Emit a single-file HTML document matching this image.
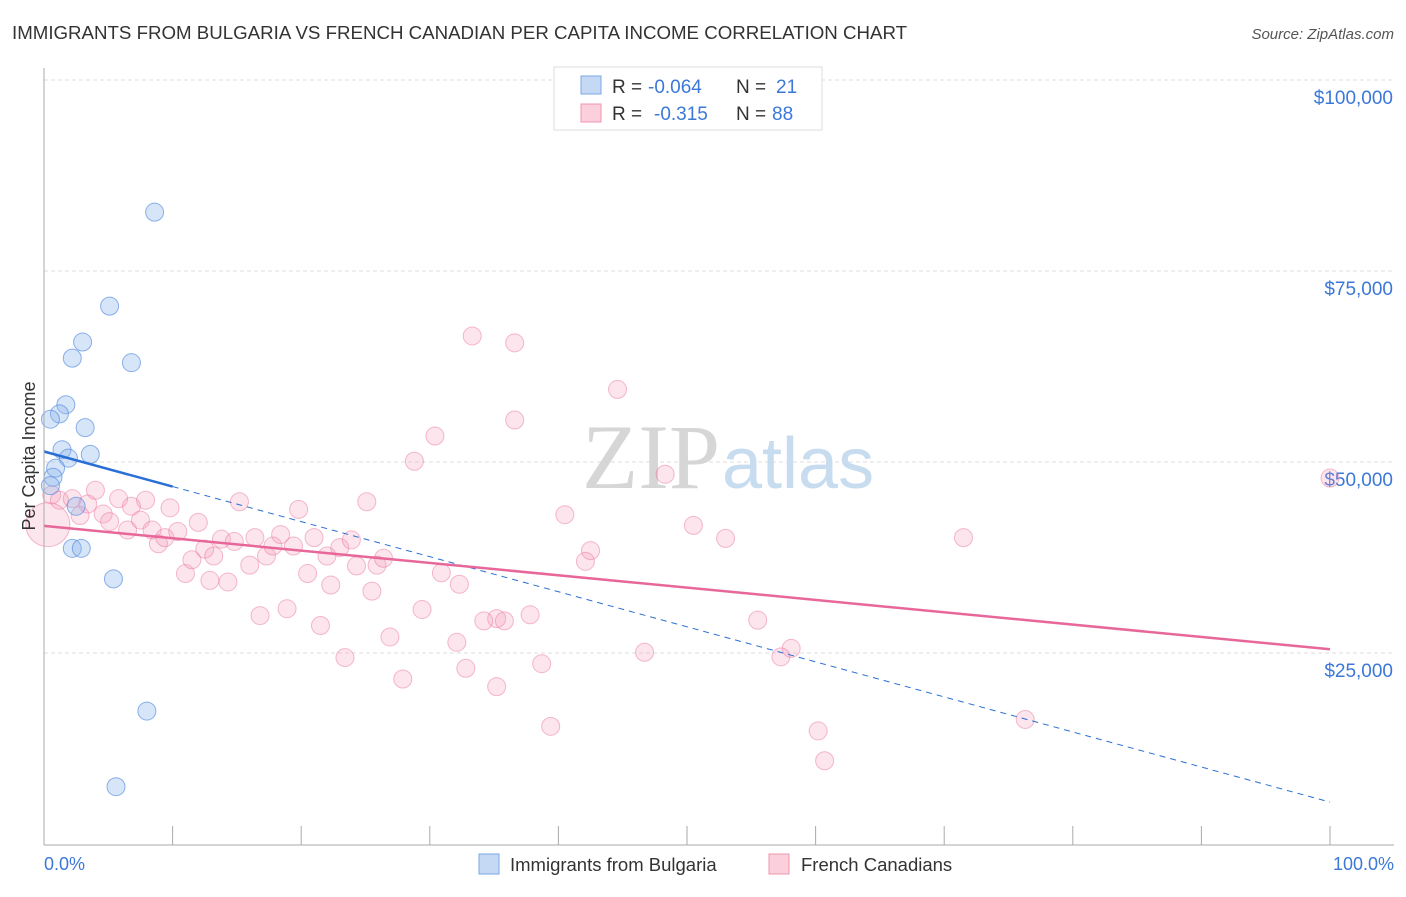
<!DOCTYPE html>
<html><head><meta charset="utf-8"><style>
body{margin:0;background:#fff;font-family:"Liberation Sans",sans-serif;}
</style></head><body>
<svg width="1406" height="892" xmlns="http://www.w3.org/2000/svg">
<text x="12" y="39" font-size="18.7" fill="#333">IMMIGRANTS FROM BULGARIA VS FRENCH CANADIAN PER CAPITA INCOME CORRELATION CHART</text>
<text x="1394" y="39" font-size="15" fill="#555" font-style="italic" text-anchor="end">Source: ZipAtlas.com</text>
<g id="grid"></g>
<text x="720" y="488" font-size="92" fill="#d6d6d6" text-anchor="end" font-family="Liberation Serif,serif">ZIP</text>
<text x="722" y="488" font-size="72" fill="#c8dcf0">atlas</text>
<g id="pts"></g>
<g id="lines"></g>
<line x1="44" y1="68" x2="44" y2="845" stroke="#aaa"/>
<line x1="44" y1="845" x2="1394" y2="845" stroke="#aaa"/>
<text transform="translate(35,456) rotate(-90)" font-size="18" fill="#333" text-anchor="middle">Per Capita Income</text>
<text x="44" y="870" font-size="18" fill="#3b78d8">0.0%</text>
<text x="1394" y="870" font-size="18" fill="#3b78d8" text-anchor="end">100.0%</text>
<g>
<rect x="554" y="67" width="268" height="63" fill="#fff" stroke="#ddd"/>
<rect x="581" y="76" width="20" height="18" fill="#c5d9f5" stroke="#7aa6e6"/>
<rect x="581" y="104" width="20" height="18" fill="#fbd0dc" stroke="#f096b1"/>
<text x="612" y="93" font-size="19" fill="#333">R =</text>
<text x="648" y="93" font-size="19" fill="#3b78d8">-0.064</text>
<text x="736" y="93" font-size="19" fill="#333">N =</text>
<text x="776" y="93" font-size="19" fill="#3b78d8">21</text>
<text x="612" y="120" font-size="19" fill="#333">R =</text>
<text x="654" y="120" font-size="19" fill="#3b78d8">-0.315</text>
<text x="736" y="120" font-size="19" fill="#333">N =</text>
<text x="772" y="120" font-size="19" fill="#3b78d8">88</text>
</g>
<g>
<rect x="479" y="854" width="20" height="20" fill="#c5d9f5" stroke="#7aa6e6"/>
<text x="510" y="871" font-size="18.5" fill="#333">Immigrants from Bulgaria</text>
<rect x="769" y="854" width="20" height="20" fill="#fbd0dc" stroke="#f096b1"/>
<text x="801" y="871" font-size="18.5" fill="#333">French Canadians</text>
</g>
</svg>
<script>
const yTicks=[25000,50000,75000,100000];
const yTickLabels=["$25,000","$50,000","$75,000","$100,000"];
const xTicks=[0,10,20,30,40,50,60,70,80,90,100];
const bulgX=[8.6,5.1,3.0,2.2,6.8,1.7,1.2,0.5,3.2,1.4,3.6,1.9,0.9,0.7,0.5,2.5,2.2,2.9,5.4,8.0,5.6];
const bulgY=[82700,70400,65700,63600,63000,57500,56300,55600,54500,51600,51000,50500,49200,48000,46900,44200,38700,38700,34700,17400,7500];
const frX=[33.3,36.6,44.6,36.6,30.4,28.8,48.3,100,40.5,50.5,53,71.5,42.5,42.1,30.9,32.3,29.4,35.2,37.8,34.2,35.8,55.5,26.9,32.1,46.7,58.1,57.3,38.7,32.8,23.4,27.9,35.2,39.4,76.3,60.2,60.7,
0.6,1.2,2.2,3.4,4.0,4.6,2.8,5.8,6.8,7.9,5.1,6.5,7.5,8.4,8.9,9.4,9.8,10.4,11,11.5,12,12.5,12.9,13.2,13.8,14.3,14.8,15.2,16,16.4,16.8,17.3,17.8,18.4,18.9,19.4,19.8,20.5,21,21.5,22,22.3,23,23.9,24.3,25.1,25.5,25.9,26.4,0.3];
const frY=[66500,65600,59500,55500,53400,50100,48400,47900,43100,41700,40000,40100,38400,37000,35500,34000,30700,29500,30000,29200,29200,29300,27100,26400,25100,25600,24500,23600,23000,24400,21600,20600,15400,16300,14800,10900,
45700,45000,45200,44500,46300,43200,43000,45200,44200,45000,42200,41100,42400,41100,39300,40100,44000,40900,35400,37200,42100,38600,34500,37700,39900,34300,39600,44800,36500,40100,29900,37700,39000,40500,30800,39000,43800,35400,40100,28600,37700,33900,38800,39800,36400,44800,33100,36500,37400,41800];
const NS="http://www.w3.org/2000/svg";
const X=p=>44+p*12.86, Y=v=>844-v/25000*191;
function mk(t,a,par){const e=document.createElementNS(NS,t);for(const k in a)e.setAttribute(k,a[k]);document.getElementById(par).appendChild(e);return e;}
yTicks.forEach((v,i)=>{
 const l=mk('line',{x1:44,x2:1394,y1:Y(v),y2:Y(v),stroke:'#ddd','stroke-dasharray':'4,3'},'grid');
 
 
 const t=mk('text',{x:1393,y:Y(v)+24,'font-size':19,fill:'#3b78d8','text-anchor':'end'},'grid');t.textContent=yTickLabels[i];
 
 
});
xTicks.forEach(p=>{
 const l=mk('line',{x1:X(p),x2:X(p),y1:826,y2:845,stroke:'#aaa'},'grid');
 
 
});
frX.forEach((x,i)=>{
 const big=i===frX.length-1;
 const c=mk('circle',{cx:X(x),cy:Y(frY[i]),r:big?22:9,fill:'rgba(245,150,180,0.25)',stroke:'rgba(235,120,160,0.5)','stroke-width':1},'pts');
 
 
});
bulgX.forEach((x,i)=>{
 const c=mk('circle',{cx:X(x),cy:Y(bulgY[i]),r:9,fill:'rgba(140,180,235,0.35)',stroke:'rgba(70,130,220,0.6)','stroke-width':1},'pts');
 
 
});
function fit(xs,ys){const n=xs.length,mx=xs.reduce((a,b)=>a+b)/n,my=ys.reduce((a,b)=>a+b)/n;let sxy=0,sxx=0;xs.forEach((x,i)=>{sxy+=(x-mx)*(ys[i]-my);sxx+=(x-mx)**2});const b=sxy/sxx;return [my-b*mx,b];}
const [ba,bb]=fit(bulgX,bulgY);
let l=mk('line',{x1:X(0),y1:Y(ba),x2:X(10),y2:Y(ba+bb*10),stroke:'#2a6fd6','stroke-width':2.5},'lines');


l=mk('line',{x1:X(10),y1:Y(ba+bb*10),x2:X(100),y2:Y(ba+bb*100),stroke:'#2a6fd6','stroke-width':1,'stroke-dasharray':'6,5'},'lines');


const [fa,fb]=fit(frX,frY);
l=mk('line',{x1:X(0),y1:Y(fa),x2:X(100),y2:Y(fa+fb*100),stroke:'#e8679a','stroke-width':2.5},'lines');


</script>
</body></html>
